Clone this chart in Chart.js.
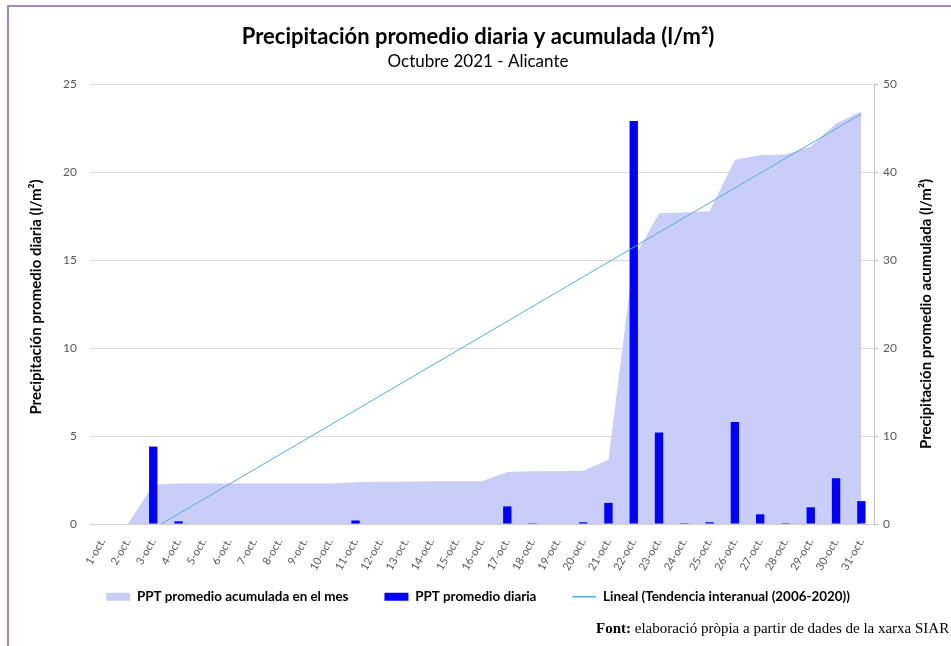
<!DOCTYPE html>
<html><head><meta charset="utf-8">
<script src="https://cdn.jsdelivr.net/npm/chart.js@4/dist/chart.umd.min.js"></script>
<style>
html,body{margin:0;padding:0;background:#fff;width:951px;height:646px;overflow:hidden;}
#frame{position:absolute;left:7px;top:5px;width:1000px;height:700px;border-top:2px solid #9d87bf;border-left:2px solid #9d87bf;}
#wrap{position:absolute;left:0;top:0;width:951px;height:646px;}
#src{position:absolute;left:596px;top:620px;font:15px "Liberation Serif","Times New Roman",serif;color:#000;white-space:nowrap;}
</style></head><body>
<div id="frame"></div>
<div id="wrap"><canvas id="c"></canvas></div>
<div id="src"><b>Font:</b> elaboració pròpia a partir de dades de la xarxa SIAR</div>
<script>
const categories = ['1-oct.','2-oct.','3-oct.','4-oct.','5-oct.','6-oct.','7-oct.','8-oct.','9-oct.','10-oct.',
  '11-oct.','12-oct.','13-oct.','14-oct.','15-oct.','16-oct.','17-oct.','18-oct.','19-oct.','20-oct.',
  '21-oct.','22-oct.','23-oct.','24-oct.','25-oct.','26-oct.','27-oct.','28-oct.','29-oct.','30-oct.','31-oct.'];
const dailyPPT = [0,0,4.4,0.15,0,0,0,0,0,0,0.2,0,0,0,0,0,1.0,0.05,0,0.1,1.2,22.9,5.2,0.05,0.1,5.8,0.55,0.05,0.95,2.6,1.3];
const accumulatedPPT = [0,0,4.45,4.6,4.6,4.6,4.6,4.6,4.6,4.6,4.75,4.8,4.8,4.85,4.85,4.85,5.9,6.0,6.0,6.05,7.3,30.2,35.3,35.4,35.55,41.4,41.9,42.0,42.9,45.5,46.9];
const trendPPT = [-3.9,null,null,null,null,null,null,null,null,null,null,null,null,null,null,null,null,null,null,null,null,null,null,null,null,null,null,null,null,null,46.6];
const leftAxisTicks = [0,5,10,15,20,25];
const rightAxisTicks = [0,10,20,30,40,50];

const FONT = 'Lato';
const sideTitles = {
  id:'sideTitles',
  afterLayout(chart){
    if (chart.legend) { chart.legend.top -= 18; chart.legend.bottom -= 18; }
  },
  afterDraw(chart){
    const ctx = chart.ctx;
    ctx.save();
    ctx.font = 'bold 15px ' + FONT;
    ctx.fillStyle = '#000';
    ctx.textAlign = 'center';
    ctx.textBaseline = 'middle';
    ctx.save(); ctx.translate(36, 297); ctx.rotate(-Math.PI/2);
    ctx.fillText('Precipitación promedio diaria (l/m²)', 0, 0); ctx.restore();
    ctx.save(); ctx.translate(926, 314); ctx.rotate(-Math.PI/2);
    ctx.fillText('Precipitación promedio acumulada (l/m²)', 0, 0); ctx.restore();
    ctx.restore();
  }
};

new Chart(document.getElementById('c'), {
  type:'bar',
  data:{
    labels: categories,
    datasets:[
      {type:'line', label:'PPT promedio acumulada en el mes', data:accumulatedPPT, yAxisID:'y1',
        fill:'origin', backgroundColor:'#c8cef8', borderColor:'rgba(0,0,0,0)', borderWidth:0,
        pointRadius:0, tension:0, order:3},
      {type:'bar', label:'PPT promedio diaria', data:dailyPPT, yAxisID:'y',
        backgroundColor:'#0000ff', barPercentage:0.33, categoryPercentage:1, order:2},
      {type:'line', label:'Lineal (Tendencia interanual (2006-2020))', data:trendPPT, yAxisID:'y1',
        borderColor:'#56acd8', borderWidth:1, pointRadius:0, spanGaps:true, fill:false, tension:0, order:1}
    ]
  },
  options:{
    responsive:true, maintainAspectRatio:false, animation:false,
    layout:{padding:{top:24,bottom:14.6,left:5,right:0}},
    plugins:{
      tooltip:{enabled:false},
      title:{display:true, text:'Precipitación promedio diaria y acumulada (l/m²)', color:'#000',
        font:{family:FONT, size:22, weight:'bold'}, padding:{top:0,bottom:0}},
      subtitle:{display:true, text:'Octubre 2021 - Alicante', color:'#000',
        font:{family:FONT, size:17}, padding:{top:0.5,bottom:12.7}},
      legend:{position:'bottom', labels:{usePointStyle:true, pointStyleWidth:24, boxHeight:8, padding:36,
        color:'#000', font:{family:FONT, size:13.4, weight:'bold'},
        generateLabels(chart){
          const items = Chart.defaults.plugins.legend.labels.generateLabels(chart);
          items.sort((a,b)=>a.datasetIndex-b.datasetIndex);
          items.forEach(it=>{
            const ds = chart.data.datasets[it.datasetIndex];
            if(it.datasetIndex===2){ it.pointStyle='line'; it.strokeStyle=ds.borderColor; it.lineWidth=1.5; }
            else { it.pointStyle='rect'; it.fillStyle=ds.backgroundColor; it.lineWidth=0; }
          });
          return items;
        }}}
    },
    scales:{
      x:{grid:{display:false}, border:{display:true,color:'#d0d0d0'},
        ticks:{color:'#595959', font:{family:FONT,size:11}, minRotation:60, maxRotation:60, autoSkip:false, padding:4},
        afterFit(s){ s.height = 48; }},
      y:{position:'left', min:0, max:25,
        ticks:{stepSize:5, color:'#595959', font:{family:FONT,size:12}, padding:13},
        afterBuildTicks(s){ s.ticks = leftAxisTicks.map(v=>({value:v})); },
        grid:{color:'#d9d9d9', drawTicks:false}, border:{display:false},
        afterFit(s){ s.width = 85; }},
      y1:{position:'right', min:0, max:50,
        ticks:{stepSize:10, color:'#595959', font:{family:FONT,size:12}, padding:5},
        afterBuildTicks(s){ s.ticks = rightAxisTicks.map(v=>({value:v})); },
        grid:{drawOnChartArea:false, drawTicks:true, tickLength:4, color:'#bfbfbf'},
        border:{display:true, color:'#bfbfbf'},
        afterFit(s){ s.width = 77; }}
    }
  },
  plugins:[sideTitles]
});
</script>
</body></html>
